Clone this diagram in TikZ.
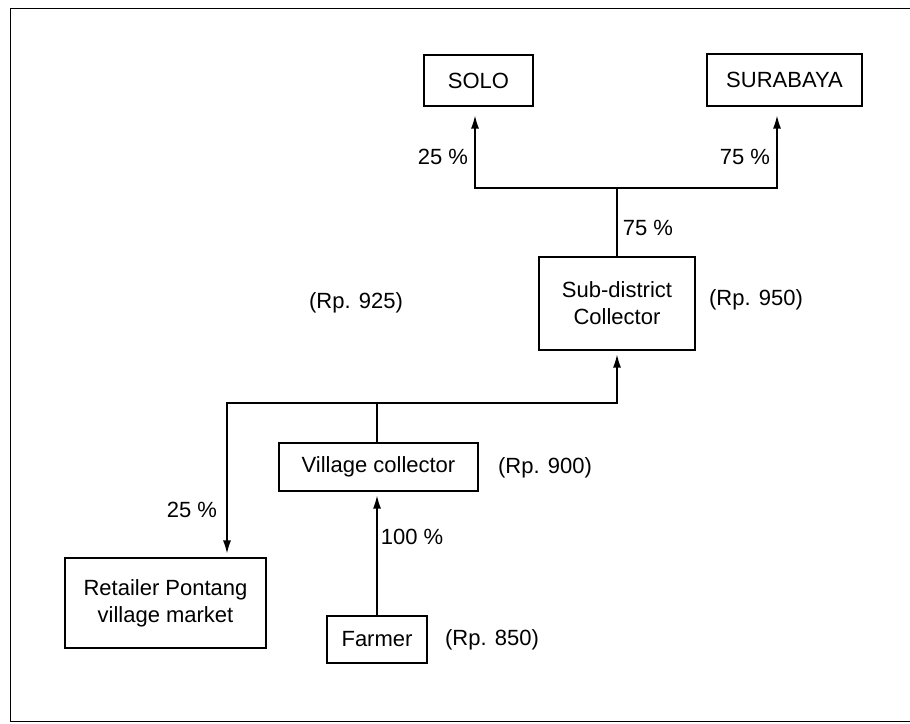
\documentclass[tikz,border=0pt]{standalone}
\usepackage{fontspec}
\setmainfont{Liberation Sans}
\usetikzlibrary{arrows.meta}
\begin{document}
\begin{tikzpicture}[x=1pt,y=-1pt,
  txt/.style={font=\fontsize{22}{27}\selectfont},
  box/.style={txt,draw,line width=1.1pt,inner sep=0pt,align=center},
  lbl/.style={txt,inner sep=0pt},
  conn/.style={line width=1.3pt},
  arr/.style={conn,-{Latex[length=13pt,width=8pt]},shorten >=4pt}]
\useasboundingbox (0,0) rectangle (910,723);
% frame
\draw[line width=1.3pt] (910,8.5) -- (10.5,8.5) -- (10.5,721.5) -- (910,721.5);
% boxes
\node[box,minimum width=109pt,minimum height=51pt] (solo) at (478.5,80.5) {SOLO};
\node[box,minimum width=155pt,minimum height=52pt] (sura) at (784.5,80) {SURABAYA};
\node[box,minimum width=156pt,minimum height=93pt] (sub) at (617,303.5) {Sub-district\\Collector};
\node[box,minimum width=199pt,minimum height=48pt] (vc) at (378.5,467) {Village collector};
\node[box,minimum width=201pt,minimum height=90pt] (ret) at (165.5,603) {Retailer Pontang\\village market};
\node[box,minimum width=100pt,minimum height=47pt] (farm) at (377,639.5) {Farmer};
% labels
\node[lbl] (l25a) at (443,157) {25 \%};
\node[lbl] (l75a) at (745,157) {75 \%};
\node[lbl] (l75b) at (648,228) {75 \%};
\node[lbl] (rp925) at (356,303) {(Rp. 925)};
\node[lbl] (rp950) at (756,300) {(Rp. 950)};
\node[lbl] (rp900) at (545,468) {(Rp. 900)};
\node[lbl] (l25b) at (192,510) {25 \%};
\node[lbl] (l100) at (412,537) {100 \%};
\node[lbl] (rp850) at (492,640) {(Rp. 850)};
% connectors
\coordinate (jt) at (617,188);
\coordinate (jb) at (377,403);
\draw[conn] (sub.north) -- (jt);
\draw[arr,shorten >=9pt] (jt) -| ([xshift=-3.5pt]solo.south);
\draw[arr,shorten >=9pt] (jt) -| ([xshift=-7.5pt]sura.south);
\draw[conn] (vc.north -| jb) -- (jb);
\draw[arr] (jb) -| (sub.south);
\draw[arr] (jb) -| ([xshift=61.5pt]ret.north);
\draw[arr] (farm.north) -- (farm.north |- vc.south);
\end{tikzpicture}
\end{document}
